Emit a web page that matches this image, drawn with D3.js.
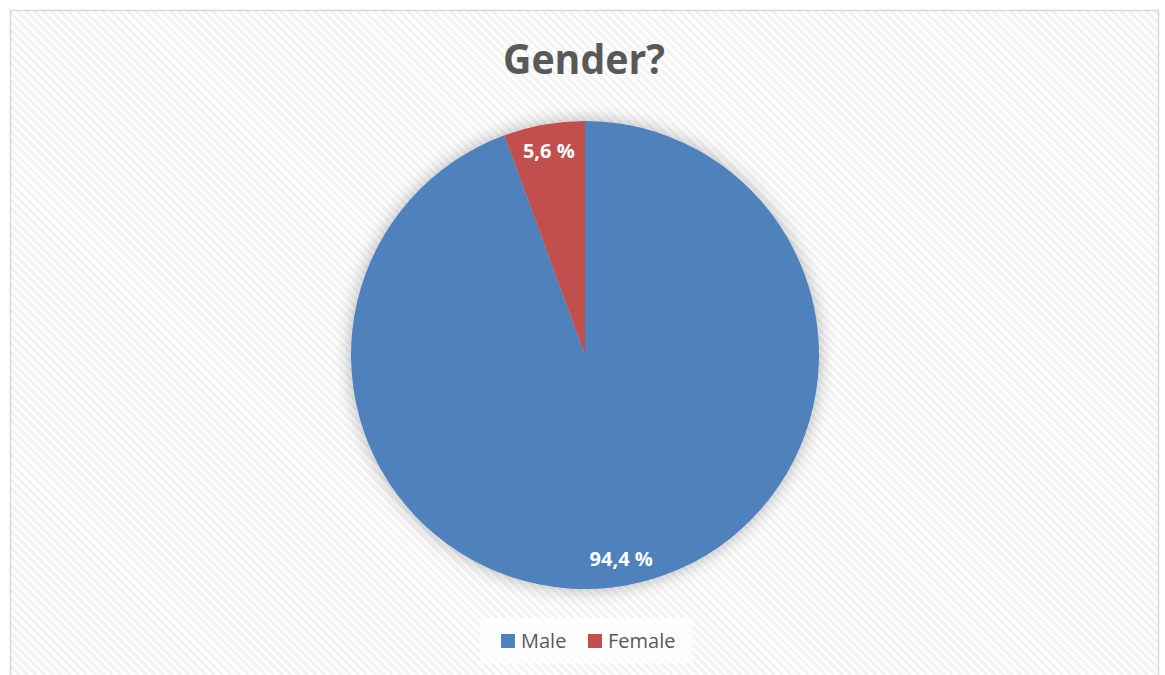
<!DOCTYPE html>
<html>
<head>
<meta charset="utf-8">
<script src="https://cdn.jsdelivr.net/npm/d3@7"></script>
<style>
  html, body { margin: 0; padding: 0; background: #ffffff; }
  svg { display: block; }
</style>
</head>
<body>
<svg id="chart" width="1165" height="675"></svg>
<script>
// Survey answers to "Gender?" in percent
const categories = ["Male", "Female"];
const values = [94.4, 5.6];
const valueLabels = ["94,4 %", "5,6 %"];
const colors = ["#4f81bd", "#c0504d"];
const title = "Gender?";

const W = 1165, H = 675;
const svg = d3.select("#chart");
const defs = svg.append("defs");

// Light downward-diagonal hatching behind the chart
const pat = defs.append("pattern")
  .attr("id", "hatch")
  .attr("patternUnits", "userSpaceOnUse")
  .attr("width", 6).attr("height", 6)
  .attr("patternTransform", "rotate(45)");
pat.append("rect").attr("width", 6).attr("height", 6).attr("fill", "#ffffff");
pat.append("rect").attr("width", 6).attr("height", 3).attr("fill", "#f3f3f3");

// Soft glow under the pie
const glow = defs.append("filter").attr("id", "glow")
  .attr("x", "-25%").attr("y", "-25%").attr("width", "150%").attr("height", "150%");
glow.append("feGaussianBlur").attr("in", "SourceAlpha").attr("stdDeviation", 9).attr("result", "blur");
glow.append("feFlood").attr("flood-color", "#000").attr("flood-opacity", 0.3);
glow.append("feComposite").attr("in2", "blur").attr("operator", "in").attr("result", "shadow");
const merge = glow.append("feMerge");
merge.append("feMergeNode").attr("in", "shadow");
merge.append("feMergeNode").attr("in", "SourceGraphic");

// Chart area
svg.append("rect")
  .attr("x", 10.5).attr("y", 10.5)
  .attr("width", 1148).attr("height", H + 20)
  .attr("fill", "url(#hatch)")
  .attr("stroke", "#d9d9d9").attr("stroke-width", 1.5);

// Title
svg.append("text")
  .attr("x", 584).attr("y", 74)
  .attr("text-anchor", "middle")
  .attr("font-family", "'Open Sans', sans-serif")
  .attr("font-weight", 700)
  .attr("font-size", 42)
  .attr("fill", "#595959")
  .attr("textLength", 162).attr("lengthAdjust", "spacingAndGlyphs")
  .text(title);

// Pie
const cx = 585, cy = 355, R = 234;
const data = categories.map((c, i) => ({ name: c, value: values[i], label: valueLabels[i], color: colors[i] }));
const pie = d3.pie().sort(null).value(d => d.value);
const arcs = pie(data);
const arc = d3.arc().innerRadius(0).outerRadius(R);
const labelArc = d3.arc().innerRadius(207).outerRadius(207);

const g = svg.append("g").attr("transform", `translate(${cx},${cy})`);
g.append("g").attr("filter", "url(#glow)")
  .selectAll("path")
  .data(arcs)
  .join("path")
  .attr("d", arc)
  .attr("fill", d => d.data.color);

g.selectAll("text.lbl")
  .data(arcs)
  .join("text")
  .attr("class", "lbl")
  .attr("transform", d => `translate(${labelArc.centroid(d)})`)
  .attr("dy", "0.36em")
  .attr("text-anchor", "middle")
  .attr("font-family", "'Open Sans', sans-serif")
  .attr("font-weight", 700)
  .attr("font-size", 20)
  .attr("fill", "#ffffff")
  .text(d => d.data.label);

// Legend
const lg = svg.append("g");
lg.append("rect")
  .attr("x", 480).attr("y", 618)
  .attr("width", 213).attr("height", 45)
  .attr("fill", "#ffffff").attr("fill-opacity", 0.75);

const legendX = [501, 588];
const items = lg.selectAll("g.item")
  .data(data)
  .join("g")
  .attr("class", "item")
  .attr("transform", (d, i) => `translate(${legendX[i]},634)`);
items.append("rect")
  .attr("width", 14).attr("height", 14)
  .attr("fill", d => d.color);
items.append("text")
  .attr("x", 20).attr("y", 13.5)
  .attr("font-family", "'Open Sans', sans-serif")
  .attr("font-size", 20)
  .attr("fill", "#595959")
  .text(d => d.name);
</script>
</body>
</html>
